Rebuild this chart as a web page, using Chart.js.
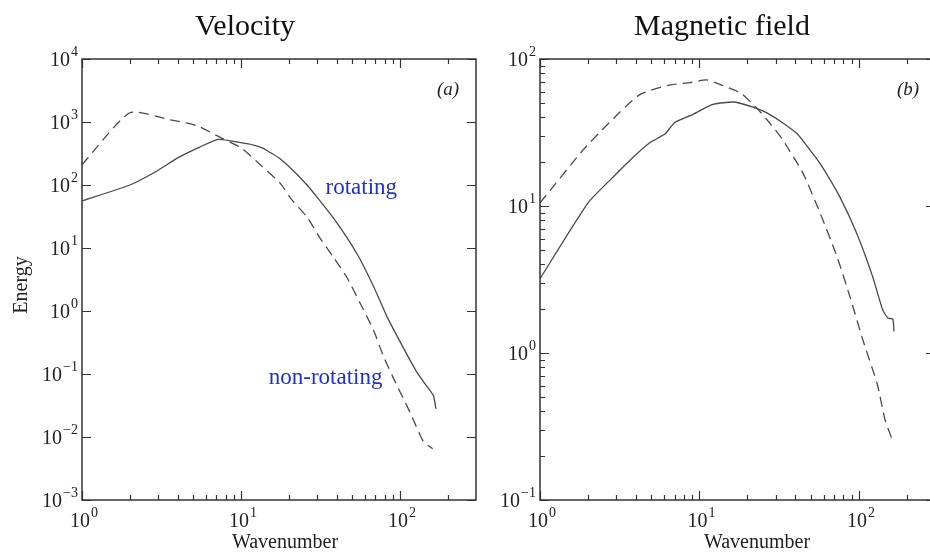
<!DOCTYPE html>
<html>
<head>
<meta charset="utf-8">
<title>Energy spectra</title>
<script src="https://cdn.jsdelivr.net/npm/chart.js@4.4.0/dist/chart.umd.min.js"></script>
<style>
  html, body { margin: 0; padding: 0; background: #fff; }
  #wrap { position: relative; width: 930px; height: 560px; overflow: hidden; }
  #wrap canvas { position: absolute; top: 0; }
  #velocityChart { left: 0; }
  #magneticChart { left: 480px; }
</style>
</head>
<body>
<div id="wrap">
  <canvas id="velocityChart" width="480" height="560"></canvas>
  <canvas id="magneticChart" width="460" height="560"></canvas>
</div>
<script>
/* ---- données ---- */

// (a) Velocity : rotating (trait plein)
const velRotK = [1, 2, 3, 4, 5.5, 7.2, 10, 12, 13.7, 15.5, 17.6, 21, 26, 31, 38, 46, 54, 62, 72, 83, 104, 128, 150, 162, 168];
const velRotE = [56, 100, 170, 270, 400, 530, 470, 430, 385, 320, 260, 175, 100, 58, 30, 15, 7.8, 4.0, 1.8, 0.8, 0.27, 0.105, 0.06, 0.045, 0.028];

// (a) Velocity : non-rotating (tirets)
const velNonK = [1, 2, 3.6, 5.3, 7.4, 10, 13.2, 17.6, 21, 26, 31, 38, 46, 56, 68, 78, 90, 116, 140, 160];
const velNonE = [210, 1400, 1080, 870, 570, 390, 210, 107, 57, 31, 15, 7.2, 3.5, 1.34, 0.5, 0.2, 0.09, 0.024, 0.0085, 0.0065];

// (b) Magnetic field : rotating (trait plein)
const magRotK = [1, 2, 2.75, 3.67, 4.9, 6.1, 7, 9.1, 12, 16.2, 18, 23, 26.5, 33, 41, 48, 57, 76, 97, 122, 141, 152, 163, 166];
const magRotE = [3.2, 10.5, 15, 20.5, 27, 31, 37, 42, 49, 51, 50, 46, 43, 37, 31, 25, 19.5, 11.5, 6.5, 3.3, 1.96, 1.73, 1.7, 1.4];

// (b) Magnetic field : non-rotating (tirets)
const magNonK = [1, 1.86, 2.63, 4.2, 6.3, 8.7, 11.1, 14, 18, 23, 28, 33.4, 44.5, 57, 73, 88, 106, 130, 146, 161];
const magNonE = [10.5, 24, 35.6, 57, 66, 69, 72, 66, 59, 46, 36, 28, 16.8, 9, 4.5, 2.4, 1.22, 0.62, 0.35, 0.26];

// graduations
const xMajor = [1, 10, 100];
const xMinor = [2, 3, 4, 5, 6, 7, 8, 9, 20, 30, 40, 50, 60, 70, 80, 90, 200];
const velYMajor = [1e-3, 1e-2, 1e-1, 1, 10, 100, 1000, 10000];
const magYMajor = [0.1, 1, 10, 100];
const magYMinor = [0.2, 0.3, 0.4, 0.5, 0.6, 0.7, 0.8, 0.9, 2, 3, 4, 5, 6, 7, 8, 9, 20, 30, 40, 50, 60, 70, 80, 90];

/* ---- style ---- */
const SERIF = '"Liberation Serif", "DejaVu Serif", serif';
const INK = '#333';
const LINE = '#4a4a4a';
const BLUE = '#1f30cf';

const toPoints = (ks, es) => ks.map((k, i) => ({ x: k, y: es[i] }));

// "10" + exposant, à la manière des axes log
function drawPower(ctx, value, x, y, align) {
    const exp = Math.round(Math.log10(value));
    const expText = exp < 0 ? '\u2212' + (-exp) : String(exp);
    ctx.font = `20px ${SERIF}`;
    const baseW = ctx.measureText('10').width;
    ctx.font = `14px ${SERIF}`;
    const expW = ctx.measureText(expText).width;
    const total = baseW + 1 + expW;
    const left = align === 'center' ? x - total / 2 : x - total;
    ctx.textAlign = 'left';
    ctx.textBaseline = 'alphabetic';
    ctx.font = `20px ${SERIF}`;
    ctx.fillText('10', left, y);
    ctx.font = `14px ${SERIF}`;
    ctx.fillText(expText, left + baseW + 1, y - 10);
}

const framePlugin = {
    id: 'frame',
    afterDraw(chart, args, opts) {
        const { ctx, chartArea: a, scales: { x, y } } = chart;
        ctx.save();

        // cadre
        ctx.strokeStyle = INK;
        ctx.lineWidth = 1.5;
        ctx.strokeRect(a.left, a.top, a.right - a.left, a.bottom - a.top);

        // graduations vers l'intérieur
        ctx.lineWidth = 1.2;
        ctx.beginPath();
        const xTicks = (vals, len) => vals.forEach(v => {
            const px = Math.round(x.getPixelForValue(v)) + 0.5;
            ctx.moveTo(px, a.bottom); ctx.lineTo(px, a.bottom - len);
            ctx.moveTo(px, a.top);    ctx.lineTo(px, a.top + len);
        });
        xTicks(xMajor, 9);
        xTicks(xMinor, 5);
        opts.yMajor.forEach(v => {
            const py = Math.round(y.getPixelForValue(v)) + 0.5;
            ctx.moveTo(a.left, py);  ctx.lineTo(a.left + 9, py);
            ctx.moveTo(a.right, py); ctx.lineTo(a.right - 9, py);
        });
        (opts.yMinor || []).forEach(v => {
            const py = Math.round(y.getPixelForValue(v)) + 0.5;
            ctx.moveTo(a.left, py); ctx.lineTo(a.left + 5, py);
        });
        ctx.stroke();

        // libellés des graduations
        ctx.fillStyle = '#222';
        xMajor.forEach(v => drawPower(ctx, v, x.getPixelForValue(v) + 2, a.bottom + 27, 'center'));
        opts.yMajor.forEach(v => drawPower(ctx, v, a.left - 4, y.getPixelForValue(v) + 7, 'right'));

        // titres d'axes
        ctx.font = `20px ${SERIF}`;
        ctx.textAlign = 'center';
        ctx.textBaseline = 'alphabetic';
        ctx.fillText('Wavenumber', opts.xTitleX, 548);
        if (opts.yTitle) {
            ctx.save();
            ctx.translate(22, 285);
            ctx.rotate(-Math.PI / 2);
            ctx.textBaseline = 'middle';
            ctx.fillText(opts.yTitle, 0, 0);
            ctx.restore();
        }

        // titre du panneau
        ctx.font = `30px ${SERIF}`;
        ctx.fillStyle = '#111';
        ctx.fillText(opts.title, opts.titleX, 35);

        // repère (a) / (b)
        ctx.font = `italic 19px ${SERIF}`;
        ctx.fillStyle = '#222';
        ctx.textBaseline = 'middle';
        ctx.fillText(opts.tag, opts.tagX, 90);

        // annotations en bleu
        ctx.font = `23px ${SERIF}`;
        ctx.fillStyle = BLUE;
        (opts.notes || []).forEach(n => {
            ctx.fillText(n.text, x.getPixelForValue(n.k), y.getPixelForValue(n.e));
        });

        ctx.restore();
    }
};

function makePanel(canvasId, rot, non, yMin, yMax, padding, frame) {
    const line = (data, dash) => ({
        data,
        borderColor: LINE,
        borderWidth: 1.3,
        borderDash: dash,
        pointRadius: 0,
        tension: 0.2,
        fill: false
    });
    return new Chart(document.getElementById(canvasId), {
        type: 'line',
        data: { datasets: [line(rot, []), line(non, [10, 6])] },
        options: {
            responsive: false,
            animation: false,
            events: [],
            layout: { padding },
            scales: {
                x: { type: 'logarithmic', min: 1, max: 300, display: false },
                y: { type: 'logarithmic', min: yMin, max: yMax, display: false }
            },
            plugins: {
                legend: { display: false },
                tooltip: { enabled: false },
                frame
            }
        },
        plugins: [framePlugin]
    });
}

makePanel('velocityChart',
    toPoints(velRotK, velRotE), toPoints(velNonK, velNonE),
    1e-3, 1e4,
    { left: 82, top: 59, right: 4, bottom: 60 },
    {
        title: 'Velocity', titleX: 245,
        tag: '(a)', tagX: 448,
        xTitleX: 285, yTitle: 'Energy',
        yMajor: velYMajor,
        notes: [
            { text: 'rotating', k: 57, e: 90 },
            { text: 'non-rotating', k: 34, e: 0.086 }
        ]
    });

makePanel('magneticChart',
    toPoints(magRotK, magRotE), toPoints(magNonK, magNonE),
    0.1, 100,
    { left: 60, top: 59, right: 5, bottom: 60 },
    {
        title: 'Magnetic field', titleX: 242,
        tag: '(b)', tagX: 428,
        xTitleX: 277,
        yMajor: magYMajor, yMinor: magYMinor
    });
</script>
</body>
</html>
